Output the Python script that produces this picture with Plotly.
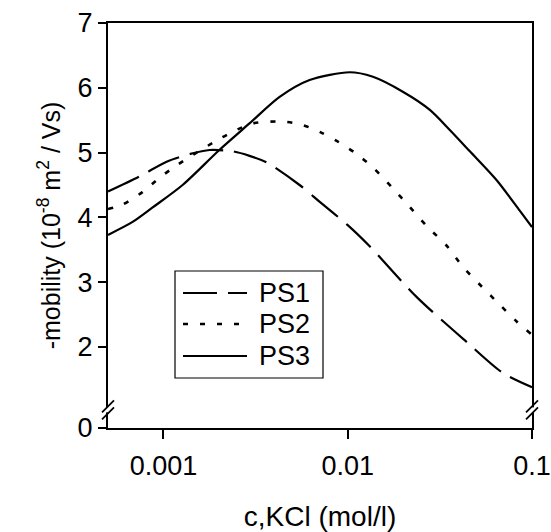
import plotly.graph_objects as go

# ---- data ----
ps1_c = [0.0005, 0.00075, 0.00104, 0.00140, 0.00178, 0.00237, 0.00293, 0.00363, 0.00548, 0.00705, 0.0100, 0.0132, 0.0237, 0.0449, 0.0695, 0.1]
ps1_mu = [4.40, 4.64, 4.86, 4.98, 5.04, 5.02, 4.95, 4.85, 4.50, 4.24, 3.88, 3.55, 2.77, 2.06, 1.60, 1.38]

ps2_c = [0.0005, 0.000592, 0.000769, 0.000951, 0.00119, 0.00185, 0.00237, 0.00305, 0.00427, 0.00548, 0.00705, 0.00871, 0.0109, 0.0137, 0.0173, 0.0217, 0.0272, 0.0345, 0.0421, 0.0535, 0.0670, 0.0828, 0.1]
ps2_mu = [4.13, 4.19, 4.39, 4.61, 4.81, 5.15, 5.32, 5.45, 5.48, 5.44, 5.32, 5.18, 5.00, 4.77, 4.47, 4.16, 3.85, 3.56, 3.24, 2.93, 2.65, 2.39, 2.19]

ps3_c = [0.0005, 0.00068, 0.00087, 0.00127, 0.00201, 0.00293, 0.00427, 0.00621, 0.01025, 0.0137, 0.0199, 0.0279, 0.0358, 0.0460, 0.0645, 0.0860, 0.1]
ps3_mu = [3.73, 3.93, 4.15, 4.50, 5.04, 5.45, 5.86, 6.12, 6.24, 6.17, 5.94, 5.66, 5.35, 5.02, 4.57, 4.10, 3.85]

names = ["PS1", "PS2", "PS3"]
dashes = ["34px,11px", "5px,12px", "solid"]
widths = [2.2, 2.6, 2.2]

x_ticks = [0.001, 0.01, 0.1]
x_ticktext = ["0.001", "0.01", "0.1"]
y_tickvals = [0.75, 2, 3, 4, 5, 6, 7]   # bottom of the broken axis is labelled 0
y_ticktext = ["0", "2", "3", "4", "5", "6", "7"]

FONT = "Liberation Sans, Arial, Helvetica, sans-serif"

fig = go.Figure()
series = [(ps1_c, ps1_mu), (ps2_c, ps2_mu), (ps3_c, ps3_mu)]
for (xs, ys), nm, d, w in zip(series, names, dashes, widths):
    fig.add_trace(go.Scatter(x=xs, y=ys, mode="lines", name=nm,
                             line=dict(color="black", width=w, dash=d, shape="spline", smoothing=0.8),
                             showlegend=False))

# ---- manual legend (box, samples, labels) in paper coordinates ----
W, H = 424.0, 405.0
def px(xp):
    return (xp - 108) / W
def py(yp):
    return (428 - yp) / H

shapes = []
annotations = []
shapes.append(dict(type="rect", xref="paper", yref="paper",
                   x0=px(175), x1=px(323), y0=py(378), y1=py(271),
                   line=dict(color="black", width=1.2), fillcolor="white", layer="above"))
rows = [293, 324, 356]
for nm, d, w, r in zip(names, dashes, widths, rows):
    shapes.append(dict(type="line", xref="paper", yref="paper",
                       x0=px(183), x1=px(247), y0=py(r), y1=py(r),
                       line=dict(color="black", width=w, dash=d), layer="above"))
    annotations.append(dict(xref="paper", yref="paper", x=px(257), y=py(r),
                            xanchor="left", yanchor="middle", showarrow=False,
                            text=nm, font=dict(family=FONT, size=27, color="black")))

# ---- axis break marks on left and right axes ----
brk_y = 1.03
for xa in (0, 1):
    shapes.append(dict(type="rect", xref="paper", yref="y", xsizemode="pixel", ysizemode="pixel",
                       xanchor=xa, yanchor=brk_y, x0=-3, x1=3, y0=-2.5, y1=2.5,
                       fillcolor="white", line=dict(width=0), layer="above"))
    for off in (-3.5, 3.5):
        shapes.append(dict(type="line", xref="paper", yref="y", xsizemode="pixel", ysizemode="pixel",
                           xanchor=xa, yanchor=brk_y, x0=-6, x1=6, y0=off - 6, y1=off + 6,
                           line=dict(color="black", width=1.8), layer="above"))

fig.update_layout(
    width=551, height=532,
    margin=dict(l=108, r=19, t=23, b=104),
    paper_bgcolor="white", plot_bgcolor="white",
    font=dict(family=FONT, size=26, color="black"),
    shapes=shapes, annotations=annotations,
)
fig.update_xaxes(type="log", range=[-3.301, -1], automargin=False,
                 tickvals=x_ticks, ticktext=x_ticktext,
                 ticks="outside", ticklen=9, tickwidth=2, tickcolor="black",
                 ticklabelstandoff=4,
                 showline=True, linewidth=2, linecolor="black", mirror=True,
                 showgrid=False, zeroline=False,
                 tickfont=dict(size=27),
                 title=dict(text="c,KCl (mol/l)", font=dict(size=28), standoff=28))
fig.update_yaxes(range=[0.75, 7], automargin=False,
                 tickvals=y_tickvals, ticktext=y_ticktext,
                 ticks="outside", ticklen=8, tickwidth=2, tickcolor="black",
                 showline=True, linewidth=2, linecolor="black", mirror=True,
                 showgrid=False, zeroline=False,
                 tickfont=dict(size=27),
                 title=dict(text="-mobility (10<sup>-8</sup> m<sup>2</sup> / Vs)", font=dict(size=25), standoff=10))

fig.write_html("out.html", config={"displayModeBar": False},
               post_script="document.body.style.margin='0';document.body.style.overflow='hidden';")
